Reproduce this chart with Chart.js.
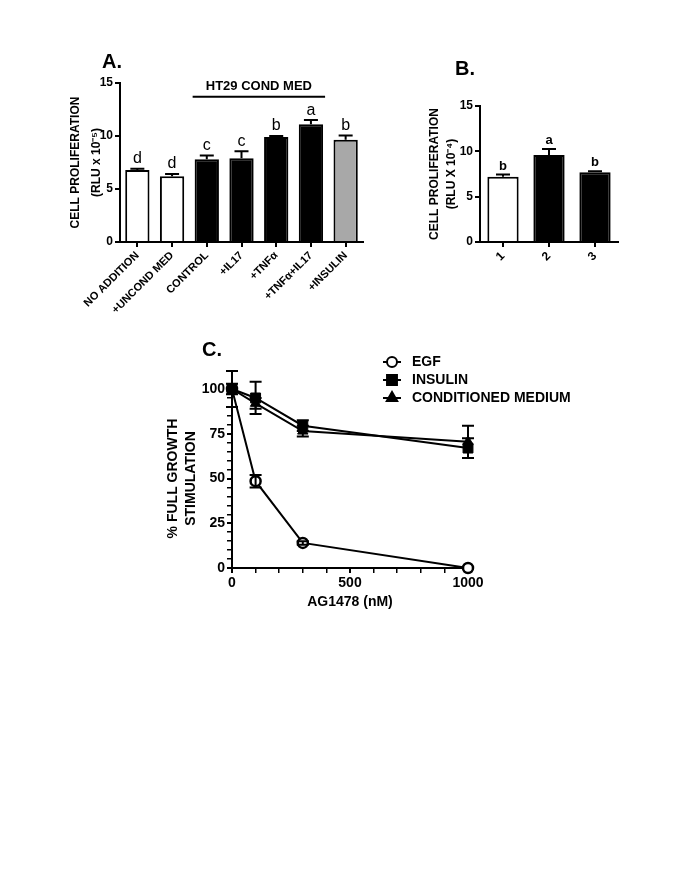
<!DOCTYPE html>
<html>
<head>
<meta charset="utf-8">
<script src="https://cdn.jsdelivr.net/npm/chart.js@4"></script>
<style>
  body { margin: 0; background: #fff; }
  #page { position: relative; width: 685px; height: 886px; background: #fff; }
  canvas { position: absolute; }
</style>
</head>
<body>
<div id="page">
  <canvas id="chartA" width="330" height="300" style="left:55px;top:40px"></canvas>
  <canvas id="chartB" width="220" height="300" style="left:420px;top:40px"></canvas>
  <canvas id="chartC" width="450" height="300" style="left:150px;top:330px"></canvas>
</div>
<script>
// panel A
const categoriesA = ['NO ADDITION', '+UNCOND MED', 'CONTROL', '+IL17', '+TNF\u03b1', '+TNF\u03b1+IL17', '+INSULIN'];
const valuesA = [6.8, 6.2, 7.8, 7.9, 9.9, 11.1, 9.65];
const errorsA = [0.1, 0.22, 0.35, 0.65, 0.1, 0.4, 0.4];
const lettersA = ['d', 'd', 'c', 'c', 'b', 'a', 'b'];

// panel B
const categoriesB = ['1', '2', '3'];
const valuesB = [7.2, 9.6, 7.7];
const errorsB = [0.25, 0.65, 0.1];
const lettersB = ['b', 'a', 'b'];

// panel C
const doseC = [0, 100, 300, 1000];
const egfC = [100, 48.5, 14, 0];
const egfErrC = [0, 3.5, 1, 0];
const insulinC = [100, 95, 79.5, 67];
const insulinErrC = [3, 9, 3, 5.5];
const condMedC = [100, 92, 76.5, 70.5];
const condMedErrC = [10, 3, 3, 9];

const FONT = 'Arial, "Liberation Sans", sans-serif';
const black = '#000';

// upward (bars) or two-way (points) error bars
const errorBars = {
  id: 'errorBars',
  afterDatasetsDraw(chart, args, opts) {
    const ctx = chart.ctx;
    const yScale = chart.scales.y;
    chart.data.datasets.forEach((ds, di) => {
      if (!ds.errors) return;
      const meta = chart.getDatasetMeta(di);
      ctx.save();
      ctx.strokeStyle = black;
      ctx.lineWidth = 2;
      meta.data.forEach((el, i) => {
        const v = typeof ds.data[i] === 'object' ? ds.data[i].y : ds.data[i];
        const e = ds.errors[i];
        if (!e) return;
        const x = el.x;
        const top = yScale.getPixelForValue(v + e);
        const bot = opts.upOnly ? el.y : yScale.getPixelForValue(v - e);
        const w = opts.cap / 2;
        ctx.beginPath();
        ctx.moveTo(x, top); ctx.lineTo(x, bot);
        ctx.moveTo(x - w, top); ctx.lineTo(x + w, top);
        if (!opts.upOnly) { ctx.moveTo(x - w, bot); ctx.lineTo(x + w, bot); }
        ctx.stroke();
      });
      ctx.restore();
    });
  }
};

// letters above bars + panel labels
const annotations = {
  id: 'annotations',
  afterDraw(chart, args, opts) {
    const ctx = chart.ctx;
    const yScale = chart.scales.y;
    ctx.save();
    ctx.fillStyle = black;
    if (opts.letters) {
      const ds = chart.data.datasets[0];
      const meta = chart.getDatasetMeta(0);
      ctx.font = opts.letterFont;
      ctx.textAlign = 'center';
      ctx.textBaseline = 'bottom';
      meta.data.forEach((el, i) => {
        const y = yScale.getPixelForValue(ds.data[i] + ds.errors[i]) - 2;
        ctx.fillText(opts.letters[i], el.x, y);
      });
    }
    if (opts.panel) {
      ctx.font = 'bold 20px ' + FONT;
      ctx.textAlign = 'left';
      ctx.textBaseline = 'middle';
      ctx.fillText(opts.panel.text, opts.panel.x, opts.panel.y);
    }
    if (opts.group) {
      const meta = chart.getDatasetMeta(0);
      const a = meta.data[opts.group.from];
      const b = meta.data[opts.group.to];
      const x0 = a.x - a.width / 2 - 2;
      const x1 = b.x + b.width / 2 + 2;
      const ly = yScale.getPixelForValue(opts.group.lineAt);
      ctx.lineWidth = 2;
      ctx.beginPath();
      ctx.moveTo(x0, ly); ctx.lineTo(x1, ly);
      ctx.stroke();
      ctx.font = 'bold 13px ' + FONT;
      ctx.textAlign = 'center';
      ctx.textBaseline = 'middle';
      ctx.fillText(opts.group.text, (x0 + x1) / 2, yScale.getPixelForValue(opts.group.textAt));
    }
    ctx.restore();
  }
};

function axisStyle(fontSize) {
  return {
    grid: { display: true, drawOnChartArea: false, offset: false, color: black, lineWidth: 2, tickLength: 5 },
    border: { color: black, width: 2 },
    ticks: { color: black, font: { family: FONT, size: fontSize, weight: 'bold' }, padding: 2 }
  };
}

function barChart(id, labels, values, errors, fills, o) {
  const xs = axisStyle(o.xFont);
  const ys = axisStyle(12);
  return new Chart(document.getElementById(id), {
    type: 'bar',
    data: {
      labels: labels,
      datasets: [{
        data: values,
        errors: errors,
        backgroundColor: fills,
        borderColor: black,
        borderWidth: 2,
        barPercentage: o.barPct,
        categoryPercentage: 1
      }]
    },
    options: {
      responsive: false,
      animation: false,
      layout: { padding: o.padding },
      plugins: {
        legend: { display: false },
        tooltip: { enabled: false },
        errorBars: { upOnly: true, cap: o.cap },
        annotations: o.annotations
      },
      scales: {
        x: {
          grid: xs.grid, border: xs.border,
          ticks: Object.assign({}, xs.ticks, { minRotation: 45, maxRotation: 45, autoSkip: false }),
          afterFit: s => { s.height = o.xHeight; }
        },
        y: {
          min: 0, max: 15,
          grid: ys.grid, border: ys.border,
          ticks: Object.assign({}, ys.ticks, { stepSize: 5 }),
          title: {
            display: true, text: o.yTitle, color: black,
            font: { family: FONT, size: 12, weight: 'bold', lineHeight: o.titleLH },
            padding: { top: o.titlePad, bottom: 0 }
          },
          afterFit: s => { s.width = o.yWidth; }
        }
      }
    },
    plugins: [errorBars, annotations]
  });
}

barChart('chartA', categoriesA, valuesA, errorsA,
  ['#fff', '#fff', '#000', '#000', '#000', '#000', '#a8a8a8'], {
    xFont: 11, barPct: 0.7, cap: 14,
    padding: { left: 0, top: 43, right: 22, bottom: 0 },
    xHeight: 98, yWidth: 65, titleLH: 1.75, titlePad: 10,
    yTitle: ['CELL PROLIFERATION', '(RLU x 10\u207b\u2075)'],
    annotations: {
      letters: lettersA, letterFont: '16px ' + FONT,
      panel: { text: 'A.', x: 47, y: 22 },
      group: { from: 2, to: 5, lineAt: 13.7, textAt: 14.7, text: 'HT29 COND MED' }
    }
  });

barChart('chartB', categoriesB, valuesB, errorsB,
  ['#fff', '#000', '#000'], {
    xFont: 12, barPct: 0.68, cap: 14,
    padding: { left: 0, top: 66, right: 22, bottom: 0 },
    xHeight: 98, yWidth: 60, titleLH: 1.35, titlePad: 7,
    yTitle: ['CELL PROLIFERATION', '(RLU X 10\u207b\u2074)'],
    annotations: {
      letters: lettersB, letterFont: 'bold 13px ' + FONT,
      panel: { text: 'B.', x: 35, y: 29 }
    }
  });

// legend drawn as line + marker, like the original
const lineLegend = {
  id: 'lineLegend',
  afterDraw(chart, args, opts) {
    const ctx = chart.ctx;
    ctx.save();
    chart.data.datasets.forEach((ds, i) => {
      const y = opts.y + i * opts.step;
      ctx.strokeStyle = black;
      ctx.lineWidth = 2;
      ctx.beginPath();
      ctx.moveTo(opts.x - 9, y); ctx.lineTo(opts.x + 9, y);
      ctx.stroke();
      ctx.fillStyle = ds.pointBackgroundColor;
      ctx.strokeStyle = black;
      Chart.helpers.drawPoint(ctx, {
        pointStyle: ds.pointStyle, radius: ds.pointRadius,
        borderWidth: ds.pointBorderWidth, rotation: 0
      }, opts.x, y);
      ctx.fillStyle = black;
      ctx.font = 'bold 14px ' + FONT;
      ctx.textAlign = 'left';
      ctx.textBaseline = 'middle';
      ctx.fillText(ds.label, opts.x + 20, y);
    });
    ctx.font = 'bold 20px ' + FONT;
    ctx.fillText('C.', 52, 20);
    ctx.restore();
  }
};

const pts = ys => doseC.map((d, i) => ({ x: d, y: ys[i] }));
const cs = axisStyle(14);

new Chart(document.getElementById('chartC'), {
  type: 'line',
  data: {
    datasets: [
      { label: 'EGF', data: pts(egfC), errors: egfErrC, order: 3, clip: false,
        borderColor: black, borderWidth: 2, pointStyle: 'circle', pointRadius: 5,
        pointBorderWidth: 2.5, pointBackgroundColor: '#fff', pointBorderColor: black },
      { label: 'INSULIN', data: pts(insulinC), errors: insulinErrC, order: 2, clip: false,
        borderColor: black, borderWidth: 2, pointStyle: 'rect', pointRadius: 7,
        pointBorderWidth: 1, pointBackgroundColor: black, pointBorderColor: black },
      { label: 'CONDITIONED MEDIUM', data: pts(condMedC), errors: condMedErrC, order: 1, clip: false,
        borderColor: black, borderWidth: 2, pointStyle: 'triangle', pointRadius: 6,
        pointBorderWidth: 1, pointBackgroundColor: black, pointBorderColor: black }
    ]
  },
  options: {
    responsive: false,
    animation: false,
    layout: { padding: { left: 0, top: 59, right: 132, bottom: 0 } },
    plugins: {
      legend: { display: false },
      tooltip: { enabled: false },
      errorBars: { upOnly: false, cap: 12 },
      lineLegend: { x: 242, y: 32, step: 18 }
    },
    scales: {
      x: {
        type: 'linear', min: 0, max: 1000,
        grid: Object.assign({}, cs.grid, { lineWidth: c => (c.tick && c.tick.value % 500 === 0 ? 2 : 1.5) }),
        border: cs.border,
        ticks: Object.assign({}, cs.ticks, {
          stepSize: 100, autoSkip: false, maxRotation: 0,
          callback: v => (v % 500 === 0 ? v : '')
        }),
        title: {
          display: true, text: 'AG1478 (nM)', color: black,
          font: { family: FONT, size: 14, weight: 'bold' },
          padding: { top: 0, bottom: 19 }
        },
        afterFit: s => { s.height = 62; }
      },
      y: {
        min: 0, max: 100,
        grid: Object.assign({}, cs.grid, { lineWidth: c => (c.tick && c.tick.value % 25 === 0 ? 2 : 1.5) }),
        border: cs.border,
        ticks: Object.assign({}, cs.ticks, {
          stepSize: 5, autoSkip: false,
          callback: v => (v % 25 === 0 ? v : '')
        }),
        title: {
          display: true, text: ['% FULL GROWTH', 'STIMULATION'], color: black,
          font: { family: FONT, size: 14, weight: 'bold', lineHeight: 1.3 },
          padding: { top: 14, bottom: 0 }
        },
        afterFit: s => { s.width = 82; }
      }
    }
  },
  plugins: [errorBars, lineLegend]
});
</script>
</body>
</html>
